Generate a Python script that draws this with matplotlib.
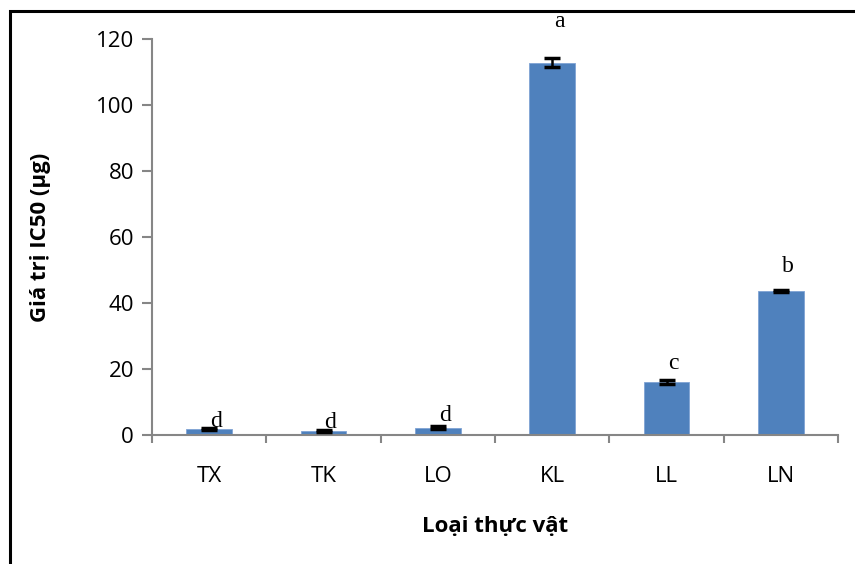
import matplotlib
matplotlib.use("Agg")
import matplotlib.pyplot as plt
from matplotlib.patches import Rectangle

# data
plants = ["TX", "TK", "LO", "KL", "LL", "LN"]
ic50 = [1.8, 1.2, 2.2, 112.8, 16.2, 43.6]
err = [0.4, 0.3, 0.4, 1.3, 0.6, 0.4]
groups = ["d", "d", "d", "a", "c", "b"]
label_gap = [0.2, 0.6, 1.6, 9.5, 3.2, 5.4]

sans = ["Open Sans", "DejaVu Sans"]
grey = "#868686"

fig = plt.figure(figsize=(8.55, 5.64), dpi=100)
ax = fig.add_axes([152/855, 1-435/564, (838-152)/855, (435-39)/564])

x = range(len(plants))
ax.bar(x, ic50, width=0.4, color="#4F81BD", edgecolor="#7FA3D4", linewidth=0.6, zorder=2)
ax.errorbar(x, ic50, yerr=err, fmt="none", ecolor="black", elinewidth=1.8,
            capsize=5.5, capthick=2.5, zorder=3)

for i, g in enumerate(groups):
    ax.text(i + 0.06, ic50[i] + err[i] + label_gap[i], g, ha="center", va="baseline",
            family="Liberation Serif", fontsize=17, clip_on=False, zorder=4)

ax.set_xlim(-0.5, len(plants) - 0.5)
ax.set_ylim(0, 120)
ax.set_yticks(range(0, 121, 20))
ax.set_yticklabels([str(v) for v in range(0, 121, 20)], family=sans, fontsize=16)

# categories at centres, ticks at boundaries
ax.set_xticks(list(x))
ax.set_xticklabels(plants, family=sans, fontsize=16)
ax.set_xticks([i - 0.5 for i in range(len(plants) + 1)], minor=True)
ax.tick_params(axis="x", which="major", length=0, pad=22)
ax.tick_params(axis="x", which="minor", length=6, color=grey, width=1.5)
ax.tick_params(axis="y", length=7, color=grey, width=1.5, pad=6)

for s in ["top", "right"]:
    ax.spines[s].set_visible(False)
for s in ["left", "bottom"]:
    ax.spines[s].set_color(grey)
    ax.spines[s].set_linewidth(1.5)

ax.set_ylabel("Giá trị IC50 (µg)", family=sans, fontsize=16, fontweight="bold", labelpad=32)
ax.set_xlabel("Loại thực vật", family=sans, fontsize=16, fontweight="bold", labelpad=21)

# outer frame, cut off on the right and bottom
fig.add_artist(Rectangle((10/855, -0.2), 2, 1.2 - 11/564, transform=fig.transFigure,
                         fill=False, edgecolor="black", linewidth=2.2, clip_on=False))

fig.savefig("out.png", dpi=100)
